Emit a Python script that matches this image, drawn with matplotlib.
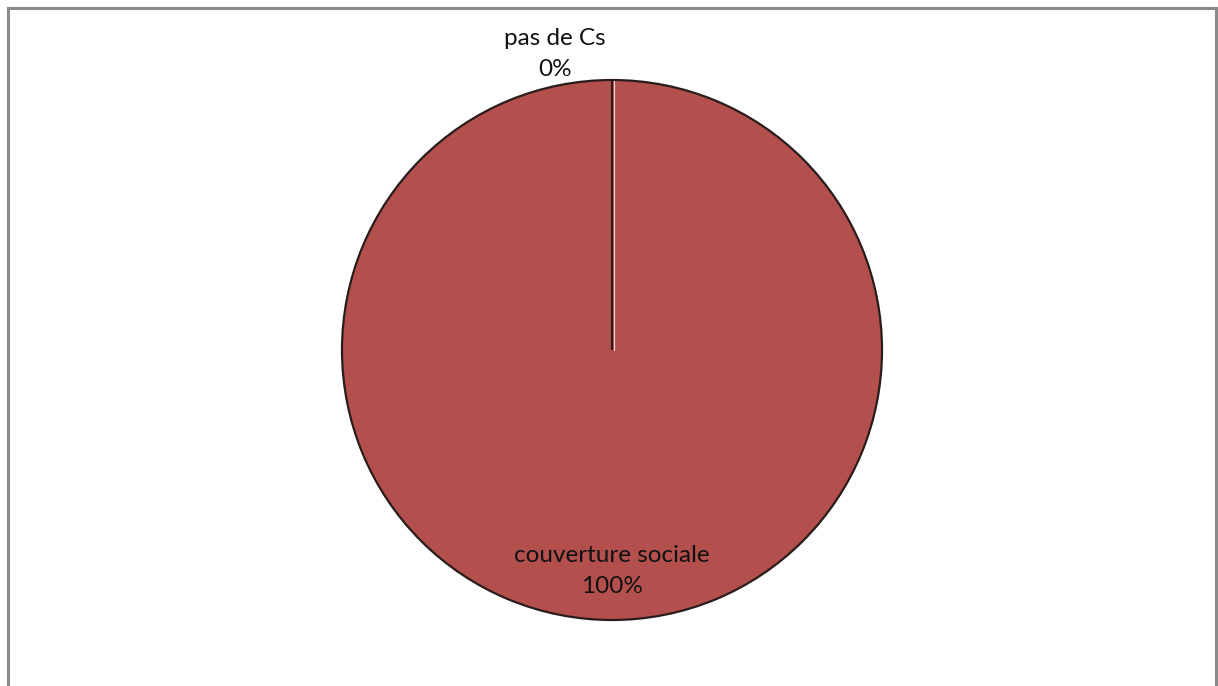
import numpy as np
import matplotlib
matplotlib.use("Agg")
import matplotlib.pyplot as plt
from matplotlib.patches import Rectangle

# Répartition des patients selon la couverture sociale
categories = ["couverture sociale", "pas de Cs"]
valeurs = [100, 0]
couleurs = ["#B3504D", "#B3504D"]

plt.rcParams["font.family"] = ["Lato", "DejaVu Sans"]

fig = plt.figure(figsize=(12.18, 6.86), dpi=100)
W, H = 1218, 686

# cadre gris du graphique
fig.patches.append(Rectangle((8 / W, -0.05), (1208) / W, 1.05 - 8 / H,
                             transform=fig.transFigure, fill=False,
                             edgecolor="#8a8a8a", linewidth=2.2))

# axe carré centré sur le camembert
ax = fig.add_axes([342 / W, 66 / H, 540 / W, 540 / H])
wedges, _ = ax.pie(valeurs, colors=couleurs, startangle=90, counterclock=False,
                   radius=1.0,
                   wedgeprops=dict(edgecolor="#2b1c1c", linewidth=1.6,
                                   clip_on=False))
ax.set_xlim(-1.0, 1.0)
ax.set_ylim(-1.0, 1.0)
ax.set_aspect("equal")
ax.axis("off")

# reflet clair le long du trait de la part nulle
ax.plot([0.006, 0.006], [0, 0.995], color="#f2d6d4", lw=0.8, zorder=3)

total = sum(valeurs)
for w, cat, v in zip(wedges, categories, valeurs):
    ang = np.deg2rad((w.theta1 + w.theta2) / 2)
    texte = f"{cat}\n{v / total:.0%}"
    if v > 0:
        x, y = 0.82 * np.cos(ang), 0.82 * np.sin(ang)
    else:
        x, y = 1.096 * np.cos(ang) - 0.21, 1.096 * np.sin(ang)
    ax.text(x, y, texte, ha="center", va="center", fontsize=17.5,
            linespacing=1.6, color="#111111", clip_on=False)

fig.savefig("out.png", dpi=100)
